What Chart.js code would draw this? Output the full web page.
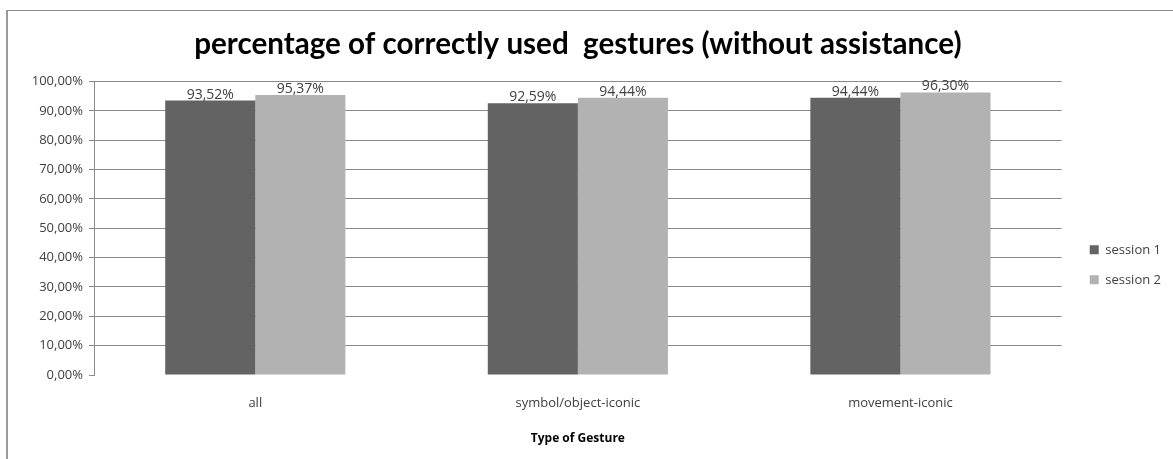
<!DOCTYPE html>
<html>
<head>
<meta charset="utf-8">
<script src="https://cdn.jsdelivr.net/npm/chart.js@4.4.1/dist/chart.umd.min.js"></script>
<style>
  body { margin: 0; background: #fff; overflow: hidden; }
  #frame { position: absolute; left: 6px; top: 10px; width: 1200px; height: 500px;
           border-top: 1px solid #8a8a8a; border-left: 2px solid #9a9a9a; }
  #wrap { position: absolute; left: 0; top: 0; width: 1173px; height: 459px; }
</style>
</head>
<body>
<div id="frame"></div>
<div id="wrap"><canvas id="mycanvas"></canvas></div>
<script>
var categories = ["all", "symbol/object-iconic", "movement-iconic"];
var session1 = [93.52, 92.59, 94.44];
var session2 = [95.37, 94.44, 96.30];
var yTicks = [0, 10, 20, 30, 40, 50, 60, 70, 80, 90, 100];

function pct(v) {
	return v.toFixed(2).replace('.', ',') + '%';
}

// values written above each bar
var valueLabels = {
	id: 'valueLabels',
	afterDatasetsDraw: function(chart) {
		var ctx = chart.ctx;
		ctx.save();
		ctx.font = '14px "Open Sans"';
		ctx.fillStyle = '#404040';
		ctx.textAlign = 'center';
		ctx.textBaseline = 'bottom';
		chart.data.datasets.forEach(function(ds, i) {
			chart.getDatasetMeta(i).data.forEach(function(bar, j) {
				ctx.fillText(pct(ds.data[j]), bar.x, bar.y + 1);
			});
		});
		ctx.restore();
	}
};

var chartdata = {
	labels: categories,
	datasets: [
		{
			label: 'session 1',
			backgroundColor: "#636363",
			data: session1
		},
		{
			label: 'session 2',
			backgroundColor: "#b2b2b2",
			data: session2
		}
	]
};

var ctx = document.getElementById('mycanvas');

var barGraph = new Chart(ctx, {
	type: 'bar',
	data: chartdata,
	plugins: [valueLabels],
	options: {
		responsive: true,
		maintainAspectRatio: false,
		animation: false,
		layout: { padding: { left: 12, right: 2, top: 0, bottom: 13 } },
		datasets: { bar: { categoryPercentage: 0.5585, barPercentage: 1 } },
		plugins: {
			title: {
				display: true,
				fullSize: false,
				text: 'percentage of correctly used  gestures (without assistance)',
				color: '#000',
				font: { family: 'Lato', size: 29.6, weight: 'bold' },
				padding: { top: 27, bottom: 19 }
			},
			legend: {
				position: 'right',
				title: {
					display: true,
					text: ' ',
					font: { family: 'Open Sans', size: 13 },
					padding: { top: 0, bottom: 68 }
				},
				labels: {
					boxWidth: 9,
					boxHeight: 9,
					color: '#404040',
					font: { family: 'Open Sans', size: 13 },
					padding: 17
				}
			},
			tooltip: { enabled: false }
		},
		scales: {
			x: {
				grid: { display: false },
				border: { display: false },
				ticks: { color: '#404040', font: { family: 'Open Sans', size: 13 }, padding: 12 },
				title: {
					display: true,
					text: 'Type of Gesture',
					color: '#000',
					font: { family: 'Open Sans', size: 12, weight: 'bold' },
					padding: { top: 9, bottom: 0 }
				}
			},
			y: {
				min: 0,
				max: 100,
				afterBuildTicks: function(scale) {
					scale.ticks = yTicks.map(function(v) { return { value: v }; });
				},
				afterFit: function(scale) { scale.width = 82; },
				grid: {
					color: function(c) { return c.tick.value === 0 ? 'rgba(0,0,0,0)' : '#8a8a8a'; },
					tickColor: '#8a8a8a',
					tickLength: 5
				},
				border: { color: '#8a8a8a' },
				ticks: {
					color: '#404040',
					font: { family: 'Open Sans', size: 13 },
					padding: 6,
					callback: function(v) { return pct(v); }
				}
			},
			// empty spacer between plot and legend
			gap: {
				position: 'right',
				display: true,
				grid: { display: false, drawTicks: false },
				border: { display: false },
				ticks: { display: false },
				afterFit: function(scale) { scale.width = 11; }
			}
		}
	}
});
</script>
</body>
</html>
